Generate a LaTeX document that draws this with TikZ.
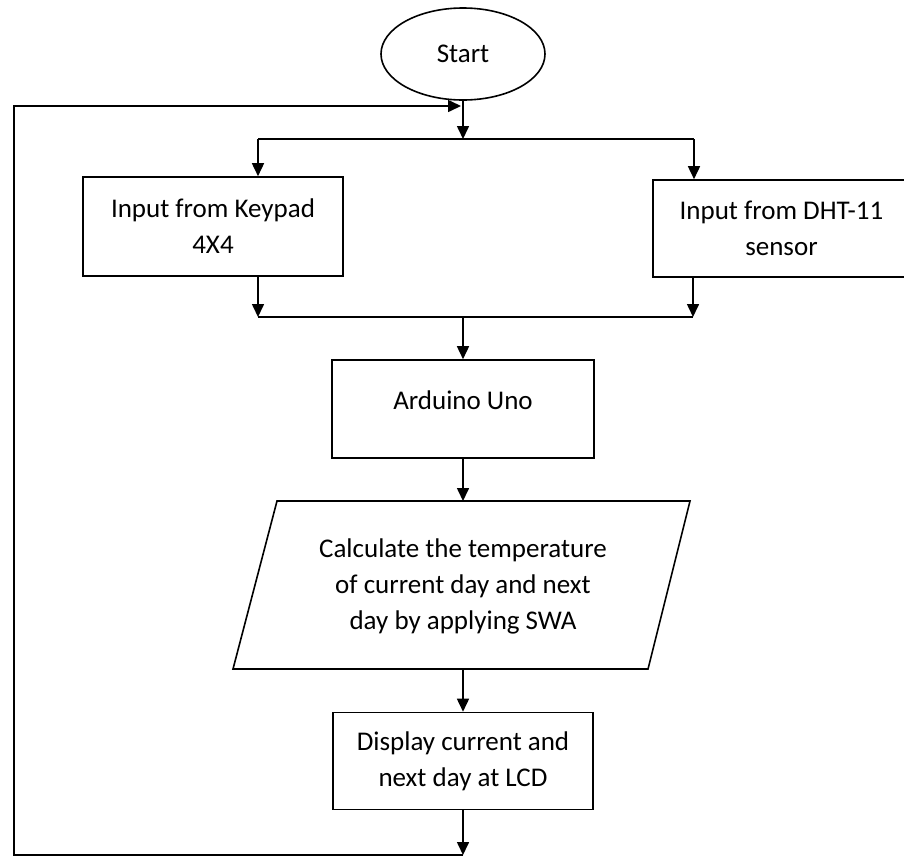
\documentclass[tikz,border=0pt]{standalone}
\usepackage{fontspec}
\setmainfont{Carlito}
\usetikzlibrary{arrows.meta,shapes.geometric}
\begin{document}
\begin{tikzpicture}[x=1pt,y=-1pt,
  line width=1.6pt,
  txt/.style={align=center, font=\fontsize{27}{36}\selectfont, inner sep=0pt},
  box/.style={draw, rectangle, txt},
  arr/.style={-{Triangle[length=13pt,width=12pt]}}]
\useasboundingbox (0,0) rectangle (904,857);

% start
\node[draw, ellipse, minimum width=164pt, minimum height=92pt, txt] (start) at (463,54) {Start};

% boxes
\node[box, minimum width=260pt, minimum height=99pt] (kp) at (213,226.5) {Input from Keypad\\4X4};
\node[box, minimum width=257pt, minimum height=97pt] (dht) at (781.5,228.5) {Input from DHT-11\\sensor};
\node[box, minimum width=262pt, minimum height=98pt, text depth=18pt] (ard) at (463,409) {Arduino Uno};
\node[box, minimum width=260pt, minimum height=97pt] (disp) at (463,761) {Display current and\\next day at LCD};

% parallelogram
\coordinate (ptl) at (277,501);
\coordinate (ptr) at (690,501);
\coordinate (pbr) at (648,669);
\coordinate (pbl) at (233,669);
\draw (ptl) -- (ptr) -- (pbr) -- (pbl) -- cycle;
\node[txt] (calc) at (463,586) {Calculate the temperature\\of current day and next\\day by applying SWA};
\coordinate (ptop) at (463,501);
\coordinate (pbot) at (463,669);

% junctions
\coordinate (jtop) at (463,139);
\coordinate (jtl) at (258,139);
\coordinate (jtr) at (694,139);
\coordinate (jbl) at (258,317);
\coordinate (jbr) at (693,317);
\coordinate (jbm) at (463,317);

\draw[arr] (start.south) -- (jtop);
\draw (jtl) -- (jtr);
\draw[arr] (jtl) -- (jtl |- kp.north);
\draw[arr] (jtr) -- (jtr |- dht.north);

\draw[arr] (jbl |- kp.south) -- (jbl);
\draw[arr] (jbr |- dht.south) -- (jbr);
\draw (jbl) -- (jbr);
\draw[arr] (jbm) -- (ard.north);

\draw[arr] (ard.south) -- (ptop);
\draw[arr] (pbot) -- (disp.north);

% loop back
\coordinate (lb) at (463,855);
\coordinate (lbl) at (14,855);
\coordinate (ltl) at (14,106);
\coordinate (lin) at (461,106);
\draw[arr] (disp.south) -- (lb);
\draw[arr] (lb) -- (lbl) -- (ltl) -- (lin);
\end{tikzpicture}
\end{document}
